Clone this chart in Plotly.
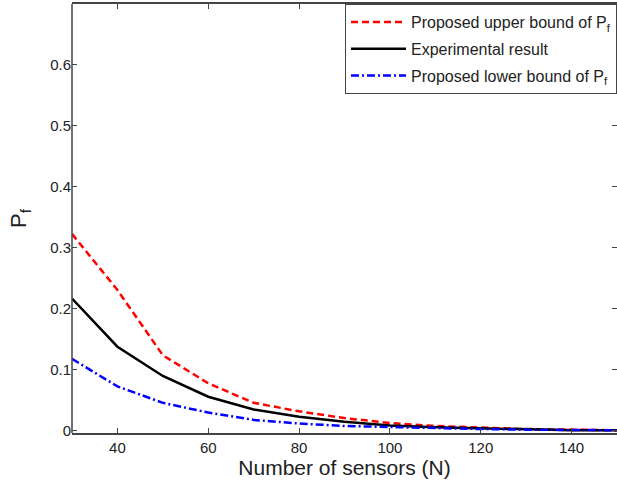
import plotly.graph_objects as go

N = [30, 40, 50, 60, 70, 80, 90, 100, 110, 120, 130, 140, 150]
upper = [0.323, 0.231, 0.124, 0.078, 0.046, 0.032, 0.021, 0.013, 0.008, 0.005, 0.003, 0.002, 0.001]
experimental = [0.217, 0.138, 0.090, 0.056, 0.035, 0.023, 0.015, 0.009, 0.006, 0.004, 0.002, 0.001, 0.001]
lower = [0.118, 0.073, 0.046, 0.030, 0.018, 0.012, 0.008, 0.006, 0.004, 0.003, 0.002, 0.001, 0.001]

names = ["Proposed upper bound of P<sub>f</sub>", "Experimental result", "Proposed lower bound of P<sub>f</sub>"]

FONT = "Liberation Sans, Arial, sans-serif"
AX = "#444444"

fig = go.Figure()
fig.add_trace(go.Scatter(x=N, y=upper, mode="lines", name=names[0], legendgroup="a",
                         line=dict(color="#ff0000", width=2.5, dash="7px,4px")))
fig.add_trace(go.Scatter(x=N, y=experimental, mode="lines", name=names[1], legendgroup="b",
                         line=dict(color="#000000", width=2.5)))
fig.add_trace(go.Scatter(x=N, y=lower, mode="lines", name=names[2], legendgroup="c",
                         line=dict(color="#0000ff", width=2.5, dash="8px,3px,2px,3px")))

fig.update_layout(
    width=617, height=487,
    margin=dict(l=72, r=0, t=4, b=54),
    paper_bgcolor="white", plot_bgcolor="white",
    font=dict(family=FONT, color="#222222", size=15),
    showlegend=True,
    legend=dict(x=1, y=1, xanchor="right", yanchor="top",
                bgcolor="white", bordercolor=AX, borderwidth=1,
                font=dict(family=FONT, size=16, color="#222222"),
                itemwidth=55, tracegroupgap=3),
    xaxis=dict(range=[30, 150], tickvals=[40, 60, 80, 100, 120, 140],
               showgrid=False, zeroline=False, showline=True, linecolor=AX, linewidth=1.5,
               mirror="ticks", ticks="inside", ticklen=5, tickcolor=AX,
               tickfont=dict(size=15, family=FONT, color="#222222"),
               title=dict(text="Number of sensors (N)", font=dict(size=21, family=FONT, color="#222222"), standoff=6)),
    yaxis=dict(range=[-0.0035, 0.7], tickvals=[0, 0.1, 0.2, 0.3, 0.4, 0.5, 0.6],
               ticktext=["0", "0.1", "0.2", "0.3", "0.4", "0.5", "0.6"],
               showgrid=False, zeroline=False, showline=False,
               mirror="ticks", ticks="inside", ticklen=5, tickcolor=AX,
               tickfont=dict(size=15, family=FONT, color="#222222"),
               title=dict(text="P<sub>f</sub>", font=dict(size=22, family=FONT, color="#222222"), standoff=17)),
    shapes=[dict(type="line", xref="paper", yref="paper", x0=0, x1=0, y0=0, y1=1,
                 line=dict(color=AX, width=1.5), layer="above")],
)

fig.write_html("out.html", config={"displayModeBar": False},
               post_script="document.body.style.margin='0';")
